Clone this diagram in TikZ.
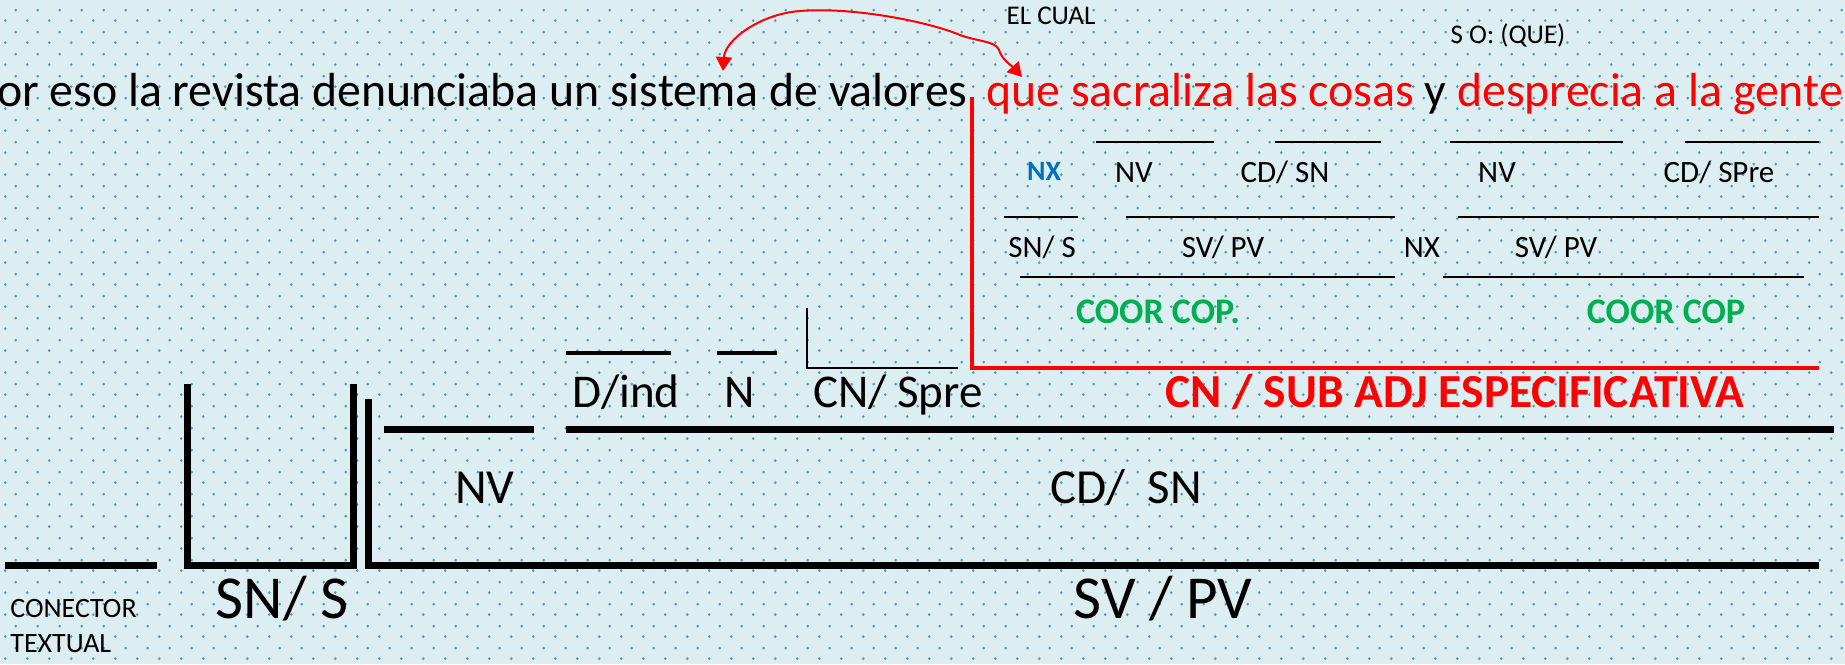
\documentclass[tikz,border=0pt]{standalone}
\usepackage{fontspec}
\setmainfont{Carlito}
\usetikzlibrary{arrows.meta,patterns.meta}

\definecolor{fondo}{RGB}{221,238,243}
\definecolor{punto}{RGB}{78,156,186}
\definecolor{rojo}{RGB}{255,0,0}
\definecolor{verde}{RGB}{0,176,80}
\definecolor{azul}{RGB}{0,112,192}

\tikzdeclarepattern{
  name=puntos,
  bottom left={(0pt,0pt)}, top right={(10.75pt,10.8pt)},
  tile size={(10.75pt,10.8pt)},
  code={\fill (2.69pt,2.7pt) circle (0.75pt); \fill (8.06pt,8.1pt) circle (0.75pt);}
}

\begin{document}
\begin{tikzpicture}[x=0.5pt, y=-0.5pt,
    txt/.style={inner sep=0pt, anchor=base},
    frase/.style={txt, font=\fontsize{23.9}{28}\selectfont},
    chica/.style={txt, font=\fontsize{15.5}{18}\selectfont},
    media/.style={txt, font=\fontsize{23.5}{28}\selectfont},
    grande/.style={txt, font=\fontsize{30.5}{36}\selectfont},
    coor/.style={txt, verde, font=\bfseries\fontsize{18}{22}\selectfont},
    gruesa/.style={line width=3.5pt},
    fina/.style={line width=1pt},
    roja/.style={rojo, line width=2.25pt}] % analisis sintactico
  \useasboundingbox (0,0) rectangle (1845,664);
  \fill[fondo] (0,0) rectangle (1845,664);
  \fill[pattern=puntos, pattern color=punto] (0,0) rectangle (1845,664);

  % oracion
  \node[frase, anchor=base east] (antec) at (968,106) {Por eso la revista denunciaba un sistema de valores};
  \node[frase, anchor=base west, rojo] (relat) at (986,106) {que sacraliza las cosas \textcolor{black}{y} desprecia a la gente};
  \node[txt, font=\fontsize{13.5}{16}\selectfont] (elcual) at (1051,25) {EL CUAL};
  \node[txt, font=\fontsize{13.5}{16}\selectfont] (so) at (1508,43) {S O: (QUE)};

  \coordinate (arrL) at (723,71);
  \coordinate (arrR) at (1022,77);
  \draw[rojo, line width=1pt, {Triangle[length=7pt,width=8pt]}-{Triangle[length=7pt,width=8pt]}]
    (arrL) .. controls (725,40) and (760,14) .. (800,11)
    .. controls (850,7) and (920,20) .. (955,33)
    .. controls (975,42) and (995,40) .. (999,50)
    .. controls (1002,60) and (1012,66) .. (arrR);

  % subordinada
  \draw[roja] (972,97) -- (972,368) -- (1819,368);
  \draw[fina] (1096,142) -- (1214,142);
  \draw[fina] (1275,142) -- (1381,142);
  \draw[fina] (1450,142) -- (1623,142);
  \draw[fina] (1685,142) -- (1819,142);
  \node[txt, azul, font=\bfseries\fontsize{14}{17}\selectfont] (nx1) at (1044,180) {NX};
  \node[chica] (nv1) at (1134,182) {NV};
  \node[chica] (cd1) at (1285,182) {CD/ SN};
  \node[chica] (nv2) at (1497,182) {NV};
  \node[chica] (cd2) at (1719,182) {CD/ SPre};

  \draw[fina] (1004,217) -- (1078,217);
  \draw[fina] (1126,217) -- (1395,217);
  \draw[fina] (1458,217) -- (1819,217);
  \node[chica] (sn1) at (1042,257) {SN/ S};
  \node[chica] (sv1) at (1223,257) {SV/ PV};
  \node[chica] (nx2) at (1422,257) {NX};
  \node[chica] (sv2) at (1556,257) {SV/ PV};

  \draw[fina] (1020,277) -- (1395,277);
  \draw[fina] (1443,277) -- (1804,277);
  \node[coor] (coor1) at (1158,323) {COOR COP.};
  \node[coor] (coor2) at (1666,323) {COOR COP};

  % sintagma nominal CD
  \draw[line width=1.6pt] (566,353) -- (671,353);
  \draw[line width=1.6pt] (717,353) -- (777,353);
  \draw[line width=0.9pt] (807,308) -- (807,368) -- (958,368);
  \node[media] (det) at (626,407) {D/ind};
  \node[media] (nuc) at (740,407) {N};
  \node[media] (cn) at (898,407) {CN/ Spre};
  \node[txt, rojo, font=\bfseries\fontsize{23.7}{28}\selectfont] (sub) at (1455,407) {CN / SUB ADJ ESPECIFICATIVA};

  % oracion principal
  \draw[gruesa] (384,429.5) -- (534,429.5);
  \draw[gruesa] (566,429.5) -- (1834,429.5);
  \node[media, font=\fontsize{24.5}{29}\selectfont] (nv) at (485,503) {NV};
  \node[media, font=\fontsize{24.5}{29}\selectfont] (cd) at (1126,503) {CD/ \ SN};

  \draw[gruesa] (5,565.5) -- (157,565.5);
  \draw[gruesa] (187,384) -- (187,565.5) -- (353,565.5) -- (353,384);
  \draw[gruesa] (368.5,399) -- (368.5,565.5) -- (1819,565.5);
  \node[grande] (sn) at (282,618) {SN/ S};
  \node[grande] (sv) at (1163,618) {SV / PV};
  \node[txt, anchor=base west, align=left, font=\fontsize{14}{17.5}\selectfont] (conector) at (10,652) {CONECTOR\\TEXTUAL};
\end{tikzpicture}
\end{document}
